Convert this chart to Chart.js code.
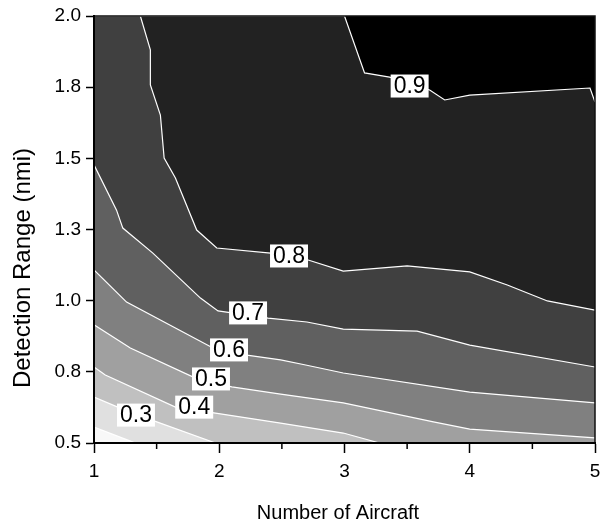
<!DOCTYPE html>
<html>
<head>
<meta charset="utf-8">
<script src="https://cdn.jsdelivr.net/npm/chart.js@4/dist/chart.umd.min.js"></script>
<style>
  html, body { margin: 0; padding: 0; background: #fff; }
  #wrap { width: 600px; height: 522px; }
</style>
</head>
<body>
<div id="wrap"><canvas id="contour"></canvas></div>
<script>
// axis ticks
const xTickValues = [1, 2, 3, 4, 5];
const xTickLabels = ['1', '2', '3', '4', '5'];
const yTickValues = [0.5, 0.75, 1.0, 1.25, 1.5, 1.75, 2.0];
const yTickLabels = ['0.5', '0.8', '1.0', '1.3', '1.5', '1.8', '2.0'];
const xTitle = 'Number of Aircraft';
const yTitle = 'Detection Range (nmi)';

// contour lines [aircraft, range]
const levels = [0.2, 0.3, 0.4, 0.5, 0.6, 0.7, 0.8, 0.9];
const c02 = [[1, 0.556], [1.27, 0.51], [1.33, 0.5], [5, 0.5]];
const c03 = [[1, 0.661], [1.19, 0.626], [1.49, 0.576], [1.97, 0.5], [5, 0.5]];
const c04 = [[1, 0.767], [1.09, 0.739], [1.65, 0.626], [1.97, 0.605], [2.49, 0.57], [2.69, 0.556], [2.99, 0.535], [3.28, 0.5], [5, 0.5]];
const c05 = [[1, 0.915], [1.29, 0.834], [1.81, 0.728], [2.1, 0.697], [2.49, 0.672], [2.99, 0.641], [3.71, 0.574], [4.0, 0.549], [5, 0.518]];
const c06 = [[1, 1.108], [1.26, 0.995], [1.95, 0.834], [2.22, 0.809], [2.49, 0.792], [2.69, 0.774], [2.99, 0.746], [4.0, 0.679], [5, 0.641]];
const c07 = [[1, 1.477], [1.18, 1.318], [1.23, 1.255], [1.47, 1.167], [1.85, 1.009], [1.99, 0.964], [2.39, 0.939], [2.7, 0.925], [2.99, 0.9], [3.58, 0.893], [4.0, 0.844], [5, 0.767]];
const c08 = [[1, 2.0], [1.37, 2.0], [1.45, 1.881], [1.45, 1.758], [1.53, 1.652], [1.56, 1.501], [1.65, 1.431], [1.82, 1.248], [1.98, 1.185], [2.41, 1.167], [2.71, 1.143], [2.99, 1.104], [3.5, 1.122], [4.0, 1.101], [4.3, 1.055], [4.62, 0.999], [5, 0.967]];
const c09 = [[1, 2.0], [3.0, 2.0], [3.16, 1.8], [3.36, 1.785], [3.68, 1.74], [3.8, 1.705], [4.0, 1.722], [4.96, 1.747], [5, 1.698]];
const contours = [c02, c03, c04, c05, c06, c07, c08, c09];

// inline contour labels
const labelText = ['0.3', '0.4', '0.5', '0.6', '0.7', '0.8', '0.9'];
const labelX = [1.335, 1.80, 1.934, 2.078, 2.23, 2.557, 3.52];
const labelY = [0.598, 0.626, 0.725, 0.827, 0.957, 1.157, 1.754];

// fill under each level, and above the top level
const bandColors = ['#f8f8f8', '#e0e0e0', '#c0c0c0', '#a0a0a0', '#808080', '#606060', '#404040', '#222222'];
const topColor = '#000000';

const FONT = "'Liberation Sans', Arial, sans-serif";

const datasets = contours.map((pts, i) => ({
  label: String(levels[i]),
  data: pts.map(p => ({ x: p[0], y: p[1] })),
  borderColor: '#ffffff',
  borderWidth: 1.2,
  backgroundColor: bandColors[i],
  fill: 'start',
  tension: 0,
  pointRadius: 0
}));

const backdrop = {
  id: 'backdrop',
  beforeDatasetsDraw(chart) {
    const { ctx, chartArea: a } = chart;
    ctx.save();
    ctx.fillStyle = topColor;
    ctx.fillRect(a.left, a.top, a.right - a.left, a.bottom - a.top);
    ctx.restore();
  }
};

const contourLabels = {
  id: 'contourLabels',
  afterDatasetsDraw(chart) {
    const { ctx, scales } = chart;
    ctx.save();
    ctx.font = '23px ' + FONT;
    ctx.textAlign = 'center';
    ctx.textBaseline = 'middle';
    labelText.forEach((t, i) => {
      const px = scales.x.getPixelForValue(labelX[i]);
      const py = scales.y.getPixelForValue(labelY[i]);
      const w = ctx.measureText(t).width + 6;
      const h = 23;
      ctx.fillStyle = '#ffffff';
      ctx.fillRect(px - w / 2, py - h / 2, w, h);
      ctx.fillStyle = '#000000';
      ctx.fillText(t, px, py + 1);
    });
    // frame top and right
    const a = chart.chartArea;
    ctx.strokeStyle = '#111';
    ctx.lineWidth = 1.5;
    ctx.beginPath();
    ctx.moveTo(a.left, a.top);
    ctx.lineTo(a.right, a.top);
    ctx.lineTo(a.right, a.bottom);
    ctx.stroke();
    ctx.restore();
  }
};

// short minor ticks on x, and the two axis titles
const extras = {
  id: 'extras',
  afterDraw(chart) {
    const { ctx, scales } = chart;
    const xs = scales.x;
    ctx.save();
    ctx.strokeStyle = '#000';
    ctx.lineWidth = 1.5;
    xs.ticks.forEach(t => {
      if (xTickValues.includes(t.value)) return;
      const px = xs.getPixelForValue(t.value);
      ctx.beginPath();
      ctx.moveTo(px, xs.top);
      ctx.lineTo(px, xs.top + 6);
      ctx.stroke();
    });

    ctx.fillStyle = '#000';
    ctx.textAlign = 'center';
    ctx.textBaseline = 'alphabetic';
    ctx.font = '20px ' + FONT;
    ctx.fillText(xTitle, 338, 519);

    ctx.font = '24px ' + FONT;
    ctx.translate(30, 268);
    ctx.rotate(-Math.PI / 2);
    ctx.fillText(yTitle, 0, 0);
    ctx.restore();
  }
};

const ctx1 = document.getElementById('contour');

new Chart(ctx1, {
  type: 'line',
  data: { datasets: datasets },
  plugins: [backdrop, contourLabels, extras],
  options: {
    responsive: true,
    maintainAspectRatio: false,
    animation: false,
    layout: { padding: { top: 16, right: 5, left: 0, bottom: 0 } },
    plugins: {
      legend: { display: false },
      tooltip: { enabled: false },
      filler: { propagate: false }
    },
    scales: {
      x: {
        type: 'linear',
        min: 1,
        max: 5,
        afterFit: s => { s.height = 79; s.paddingLeft = 0; s.paddingRight = 0; },
        ticks: {
          stepSize: 0.5,
          autoSkip: false,
          maxRotation: 0,
          padding: 7,
          color: '#000',
          font: { family: FONT, size: 19 },
          callback: v => {
            const i = xTickValues.indexOf(v);
            return i >= 0 ? xTickLabels[i] : '';
          }
        },
        grid: {
          drawOnChartArea: false,
          tickLength: 10,
          tickWidth: 1.5,
          tickColor: c => (c.tick && xTickValues.includes(c.tick.value)) ? '#000' : 'rgba(0,0,0,0)'
        },
        border: { display: true, color: '#000', width: 2, z: 1 },
        title: { display: false }
      },
      y: {
        type: 'linear',
        min: 0.5,
        max: 2.0,
        afterFit: s => { s.width = 94; s.paddingTop = 0; s.paddingBottom = 0; },
        afterBuildTicks: s => { s.ticks = yTickValues.map(v => ({ value: v })); },
        ticks: {
          padding: 5,
          color: '#000',
          font: { family: FONT, size: 19 },
          callback: (v, i) => yTickLabels[i]
        },
        grid: {
          drawOnChartArea: false,
          tickLength: 8,
          tickWidth: 1.5,
          tickColor: '#000'
        },
        border: { display: true, color: '#000', width: 2, z: 1 },
        title: { display: false }
      }
    }
  }
});
</script>
</body>
</html>
